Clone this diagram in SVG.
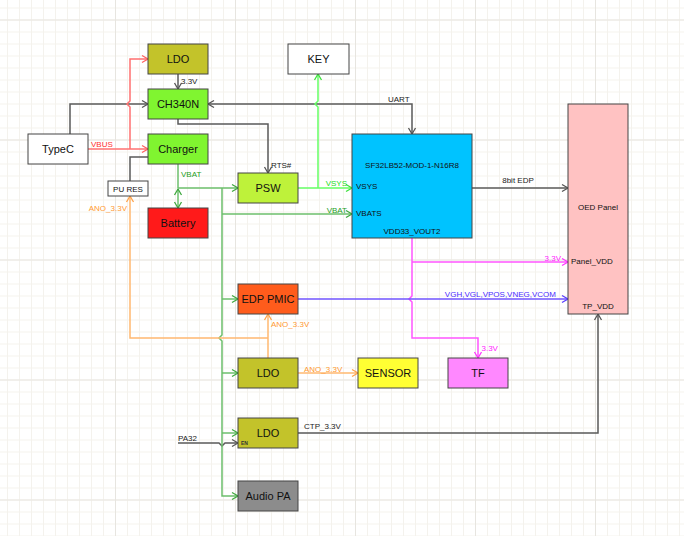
<svg xmlns="http://www.w3.org/2000/svg" width="684" height="536" viewBox="0 0 684 536">
<defs>
<pattern id="gMinor" x="7" y="7.5" width="12" height="12" patternUnits="userSpaceOnUse"><path d="M0 0.5H12M0.5 0V12" fill="none" stroke="#f4f2ed" stroke-width="1"/></pattern>
<pattern id="gMajor" x="115" y="19.5" width="120" height="120" patternUnits="userSpaceOnUse"><path d="M0 0.5H120M0.5 0V120" fill="none" stroke="#e7e5e0" stroke-width="1"/></pattern>
<marker id="aD" viewBox="-8 -5 10 10" refX="0" refY="0" markerWidth="10" markerHeight="10" markerUnits="userSpaceOnUse" orient="auto-start-reverse"><path d="M-6 -3.5L0 0L-6 3.5" fill="none" stroke="#555" stroke-width="1.3"/></marker>
<marker id="aR" viewBox="-8 -5 10 10" refX="0" refY="0" markerWidth="10" markerHeight="10" markerUnits="userSpaceOnUse" orient="auto"><path d="M-6 -3.5L0 0L-6 3.5" fill="none" stroke="#ff6060" stroke-width="1.3"/></marker>
<marker id="aG" viewBox="-8 -5 10 10" refX="0" refY="0" markerWidth="10" markerHeight="10" markerUnits="userSpaceOnUse" orient="auto-start-reverse"><path d="M-6 -3.5L0 0L-6 3.5" fill="none" stroke="#3fa83f" stroke-width="1.3"/></marker>
<marker id="aL" viewBox="-8 -5 10 10" refX="0" refY="0" markerWidth="10" markerHeight="10" markerUnits="userSpaceOnUse" orient="auto"><path d="M-6 -3.5L0 0L-6 3.5" fill="none" stroke="#3ee03e" stroke-width="1.3"/></marker>
<marker id="aO" viewBox="-8 -5 10 10" refX="0" refY="0" markerWidth="10" markerHeight="10" markerUnits="userSpaceOnUse" orient="auto"><path d="M-6 -3.5L0 0L-6 3.5" fill="none" stroke="#ffa24a" stroke-width="1.3"/></marker>
<marker id="aM" viewBox="-8 -5 10 10" refX="0" refY="0" markerWidth="10" markerHeight="10" markerUnits="userSpaceOnUse" orient="auto"><path d="M-6 -3.5L0 0L-6 3.5" fill="none" stroke="#ff33ff" stroke-width="1.3"/></marker>
<marker id="aB" viewBox="-8 -5 10 10" refX="0" refY="0" markerWidth="10" markerHeight="10" markerUnits="userSpaceOnUse" orient="auto"><path d="M-6 -3.5L0 0L-6 3.5" fill="none" stroke="#5a3cff" stroke-width="1.3"/></marker>
</defs>
<style>
.n rect{stroke:#444;stroke-width:1}
.n text{font-family:"Liberation Sans",Arial,sans-serif;font-size:11px;fill:#111;text-anchor:middle}
.s{font-family:"Liberation Sans",Arial,sans-serif;font-size:8px;fill:#222}
.c path{fill:none;stroke-width:1.5}
.dk{stroke:#5a5a5a}
.rd{stroke:#ff7070}
.gn{stroke:#6cbf6c}
.lg{stroke:#66ff66}
.or{stroke:#ffb870}
.mg{stroke:#ff55ff}
.bl{stroke:#7055ff}
</style>
<rect width="684" height="536" fill="#ffffff"/>
<rect width="684" height="536" fill="url(#gMinor)"/>
<rect width="684" height="536" fill="url(#gMajor)"/>

<g id="connectors" class="c">
<path class="dk" d="M70 134V104H148" marker-end="url(#aD)"/>
<path class="dk" d="M178 74V89" marker-end="url(#aD)"/>
<path class="dk" d="M178 119V124H268V173" marker-end="url(#aD)"/>
<path class="dk" d="M208 104H412V134" marker-start="url(#aD)" marker-end="url(#aD)"/>
<path class="dk" d="M130 181V157H148"/>
<path class="dk" d="M472 188H568" marker-end="url(#aD)"/>
<path class="dk" d="M298 433H598V314" marker-end="url(#aD)"/>
<path class="dk" d="M178 443H219L222 446L225 443H238" marker-end="url(#aD)"/>
<path class="rd" d="M88 149H148" marker-end="url(#aR)"/>
<path class="rd" d="M130 149V107L127 104L130 101V59H148" marker-end="url(#aR)"/>
<path class="lg" d="M298 188H352" marker-end="url(#aL)"/>
<path class="lg" d="M318 188V107L315 104L318 101V74" marker-end="url(#aL)"/>
<path class="gn" d="M178 163V188"/>
<path class="gn" d="M178 189V208" marker-start="url(#aG)" marker-end="url(#aG)"/>
<path class="gn" d="M178 188H238" marker-end="url(#aG)"/>
<path class="gn" d="M222 188V335L219 338L222 341V496H238" marker-end="url(#aG)"/>
<path class="gn" d="M222 214H352" marker-end="url(#aG)"/>
<path class="gn" d="M222 299H238" marker-end="url(#aG)"/>
<path class="gn" d="M222 373H238" marker-end="url(#aG)"/>
<path class="gn" d="M222 433H238" marker-end="url(#aG)"/>
<path class="or" d="M268 358V314" marker-end="url(#aO)"/>
<path class="or" d="M268 338H130V196" marker-end="url(#aO)"/>
<path class="or" d="M298 373H358" marker-end="url(#aO)"/>
<path class="mg" d="M412 238V296L409 299L412 302V338H478V358" marker-end="url(#aM)"/>
<path class="mg" d="M412 262H568" marker-end="url(#aM)"/>
<path class="bl" d="M298 299H568" marker-end="url(#aB)"/>
</g>

<g id="labels">
<text class="s" x="181" y="83.5">3.3V</text>
<text class="s" x="91" y="146.5" style="fill:#ff3030">VBUS</text>
<text class="s" x="181" y="176.5" style="fill:#1e9e1e">VBAT</text>
<text class="s" x="127" y="211" style="fill:#ff9a33;text-anchor:end">ANO_3.3V</text>
<text class="s" x="388" y="101.5">UART</text>
<text class="s" x="271" y="167.5">RTS#</text>
<text class="s" x="347" y="185.5" style="fill:#22dd22;text-anchor:end">VSYS</text>
<text class="s" x="347" y="213" style="fill:#1e9e1e;text-anchor:end">VBAT</text>
<text class="s" x="518" y="183" style="text-anchor:middle">8bit EDP</text>
<text class="s" x="561" y="261" style="fill:#ff22ff;text-anchor:end">3.3V</text>
<text class="s" x="556" y="296.5" style="fill:#4a2cff;text-anchor:end">VGH,VGL,VPOS,VNEG,VCOM</text>
<text class="s" x="271" y="327" style="fill:#ff9a33">ANO_3.3V</text>
<text class="s" x="481.5" y="351" style="fill:#ff22ff">3.3V</text>
<text class="s" x="304" y="372" style="fill:#ff9a33">ANO_3.3V</text>
<text class="s" x="304" y="428.5">CTP_3.3V</text>
<text class="s" x="178" y="440.5">PA32</text>
</g>

<g id="ldo-top" class="n"><rect x="148" y="44" width="60" height="30" fill="#c3c32a"/><text x="178" y="63">LDO</text></g>
<g id="ch340n" class="n"><rect x="148" y="89" width="60" height="30" fill="#80f530"/><text x="178" y="108">CH340N</text></g>
<g id="charger" class="n"><rect x="148" y="134" width="60" height="30" fill="#80f530"/><text x="178" y="153">Charger</text></g>
<g id="typec" class="n"><rect x="28" y="134" width="60" height="30" fill="#ffffff"/><text x="58" y="153">TypeC</text></g>
<g id="pu-res" class="n"><rect x="108" y="181" width="40" height="15" fill="#ffffff"/><text x="128" y="192" style="font-size:8px">PU RES</text></g>
<g id="battery" class="n"><rect x="148" y="208" width="60" height="30" fill="#ff1a1a"/><text x="178" y="227">Battery</text></g>
<g id="key" class="n"><rect x="288" y="44" width="61" height="30" fill="#ffffff"/><text x="318.5" y="63">KEY</text></g>
<g id="psw" class="n"><rect x="238" y="173" width="60" height="30" fill="#bef23a"/><text x="268" y="192">PSW</text></g>
<g id="sf32" class="n"><rect x="352" y="134" width="120" height="104" fill="#00c3ff"/>
<text x="412" y="167.5" style="font-size:8px">SF32LB52-MOD-1-N16R8</text>
<text x="356" y="188.5" style="font-size:8px;text-anchor:start">VSYS</text>
<text x="356" y="216" style="font-size:8px;text-anchor:start">VBATS</text>
<text x="412" y="233.5" style="font-size:8px">VDD33_VOUT2</text></g>
<g id="oed-panel" class="n"><rect x="568" y="104" width="60" height="210" fill="#ffc2c2"/>
<text x="598" y="209.5" style="font-size:8px">OED Panel</text>
<text x="571" y="264" style="font-size:8px;text-anchor:start">Panel_VDD</text>
<text x="598" y="309" style="font-size:8px">TP_VDD</text></g>
<g id="edp-pmic" class="n"><rect x="238" y="284" width="60" height="30" fill="#ff5c1c"/><text x="268" y="303">EDP PMIC</text></g>
<g id="ldo-ano" class="n"><rect x="238" y="358" width="60" height="30" fill="#c3c32a"/><text x="268" y="377">LDO</text></g>
<g id="sensor" class="n"><rect x="358" y="358" width="60" height="30" fill="#ffff33"/><text x="388" y="377">SENSOR</text></g>
<g id="tf" class="n"><rect x="448" y="358" width="60" height="30" fill="#ff88ff"/><text x="478" y="377">TF</text></g>
<g id="ldo-ctp" class="n"><rect x="238" y="418" width="60" height="30" fill="#c3c32a"/><text x="268" y="437">LDO</text>
<text x="241" y="444.5" style="font-size:5px;font-weight:bold;text-anchor:start;fill:#333">EN</text></g>
<g id="audio-pa" class="n"><rect x="238" y="481" width="60" height="30" fill="#8c8c8c"/><text x="268" y="500">Audio PA</text></g>
</svg>
